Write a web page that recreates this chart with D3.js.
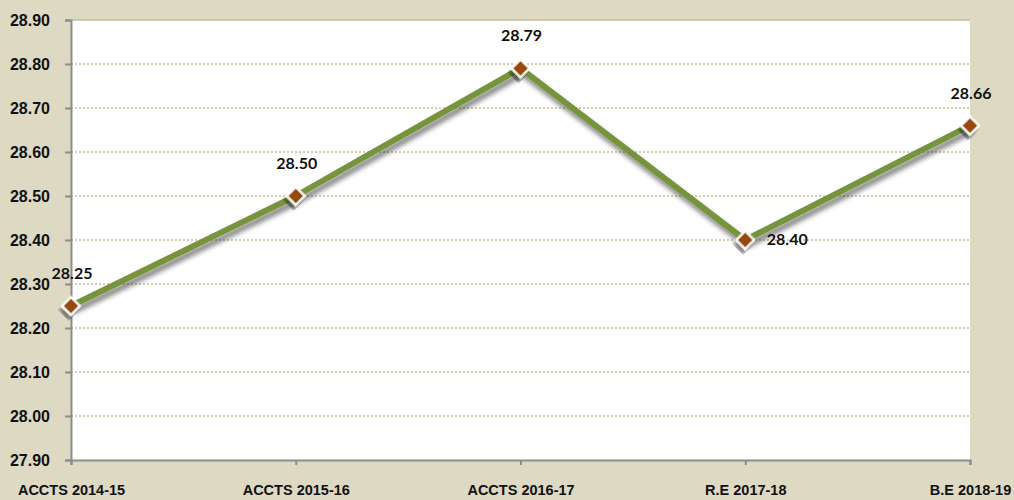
<!DOCTYPE html>
<html><head><meta charset="utf-8">
<script src="https://cdn.jsdelivr.net/npm/d3@7"></script>
<style>
html,body{margin:0;padding:0;background:#DDD9C3;}
svg{display:block;font-family:Lato,"Open Sans",sans-serif;}
</style></head><body>
<svg id="chart" width="1014" height="500"></svg>
<script>
const categories = ["ACCTS 2014-15","ACCTS 2015-16","ACCTS 2016-17","R.E 2017-18","B.E 2018-19"];
const values = [28.25, 28.50, 28.79, 28.40, 28.66];
const valueLabels = ["28.25","28.50","28.79","28.40","28.66"];
const yTicks = [27.90,28.00,28.10,28.20,28.30,28.40,28.50,28.60,28.70,28.80,28.90];
const labelPlacement = ["above","above","above","right","above"];

const W=1014,H=500;
const m={left:71,right:44,top:20,bottom:40};
const svg=d3.select("#chart");
svg.append("rect").attr("width",W).attr("height",H).attr("fill","#DDD9C3");

const x=d3.scalePoint().domain(categories).range([m.left,W-m.right]).padding(0);
const y=d3.scaleLinear().domain([27.9,28.9]).range([H-m.bottom,m.top]);

const defs=svg.append("defs");
const f=defs.append("filter").attr("id","sh").attr("x","-20%").attr("y","-20%").attr("width","140%").attr("height","160%");
f.append("feGaussianBlur").attr("in","SourceAlpha").attr("stdDeviation",2.5);
f.append("feOffset").attr("dx",2).attr("dy",5).attr("result","ob");
f.append("feComponentTransfer").append("feFuncA").attr("type","linear").attr("slope",0.5);
const mg=f.append("feMerge");mg.append("feMergeNode");mg.append("feMergeNode").attr("in","SourceGraphic");

// plot area
svg.append("rect").attr("x",m.left).attr("y",m.top).attr("width",W-m.right-m.left).attr("height",H-m.bottom-m.top).attr("fill","#fff");

// gridlines
svg.append("g").selectAll("line").data(yTicks.filter(t=>t>27.95)).join("line")
 .attr("x1",m.left).attr("x2",W-m.right).attr("y1",d=>y(d)).attr("y2",d=>y(d))
 .attr("stroke","#C4BD97").attr("stroke-width",1.5)
 .attr("stroke-dasharray",d=>d>28.85?null:"2,2");

// y axis
const ya=svg.append("g").attr("transform",`translate(${m.left},0)`)
 .call(d3.axisLeft(y).tickValues(yTicks).tickFormat(d3.format(".2f")).tickSize(6).tickPadding(15));
ya.select(".domain").attr("stroke","#8C8C8C").attr("stroke-width",2);
ya.selectAll(".tick line").attr("stroke","#8C8C8C").attr("stroke-width",2);
ya.selectAll("text").attr("font-size",16).attr("font-weight","bold").attr("fill","#111");

// x axis
const xa=svg.append("g").attr("transform",`translate(0,${H-m.bottom})`)
 .call(d3.axisBottom(x).tickSize(5).tickPadding(20));
xa.select(".domain").attr("stroke","#8C8C8C").attr("stroke-width",2);
xa.selectAll(".tick line").attr("stroke","#8C8C8C").attr("stroke-width",2);
xa.selectAll("text").attr("font-size",14.5).attr("font-weight","bold").attr("fill","#111");

const pts=categories.map((c,i)=>[x(c),y(values[i])]);
svg.append("path").datum(pts).attr("d",d3.line()).attr("fill","none")
 .attr("stroke","#77933C").attr("stroke-width",6).attr("stroke-linejoin","round").attr("filter","url(#sh)");

svg.append("g").selectAll("path").data(pts).join("path")
 .attr("d",d3.symbol().type(d3.symbolSquare).size(160))
 .attr("transform",d=>`translate(${d[0]},${d[1]}) rotate(45)`)
 .attr("fill","#984807").attr("stroke","#fff").attr("stroke-width",2.2).attr("filter","url(#sh)");

svg.append("g").selectAll("text").data(pts).join("text")
 .attr("x",(d,i)=>labelPlacement[i]==="right"?d[0]+42:d[0]+1)
 .attr("y",(d,i)=>labelPlacement[i]==="right"?d[1]+5:d[1]-27)
 .attr("text-anchor","middle").attr("font-size",16).attr("font-weight","bold").attr("fill","#111")
 .text((d,i)=>valueLabels[i]);
</script></body></html>
